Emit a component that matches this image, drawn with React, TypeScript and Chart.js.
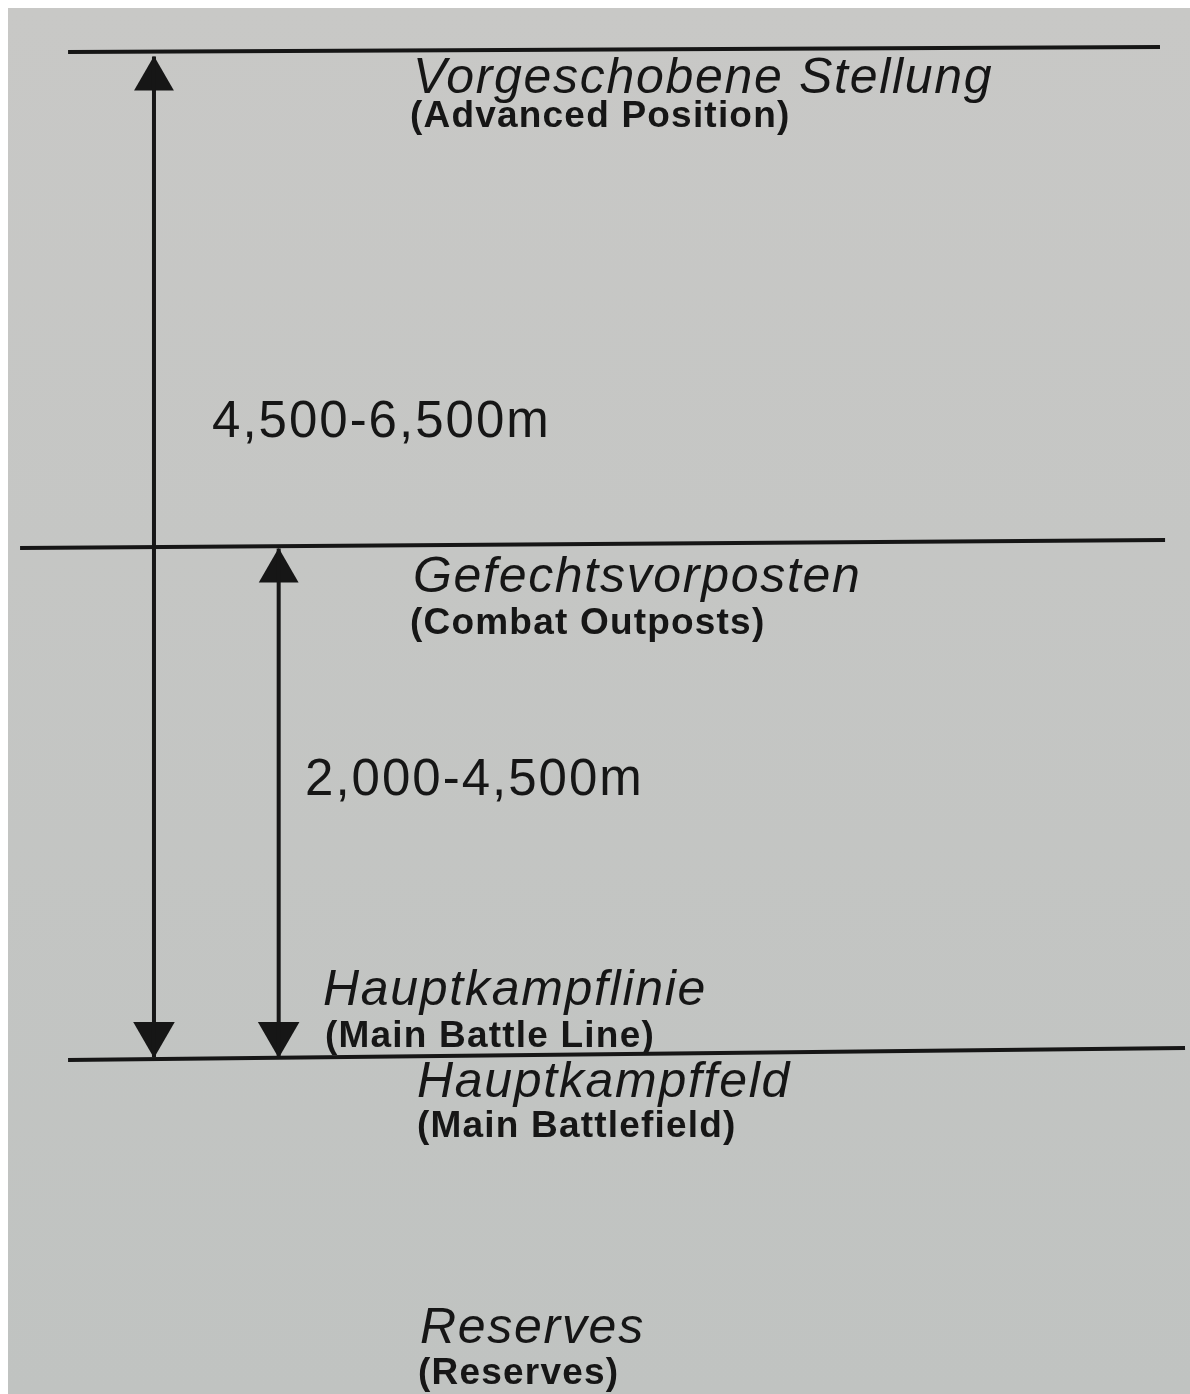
import React, { useEffect, useRef } from "react";
import { Chart, registerables } from "chart.js";

Chart.register(...registerables);

// Diagram coordinates: x and y in percent of the picture (y = 0 at bottom, 100 at top)
const lineNames = ["Vorgeschobene Stellung", "Gefechtsvorposten", "Hauptkampflinie"];
const lineStartX = [5.08, 1.02, 5.08];
const lineEndX = [97.46, 97.89, 99.58];
const lineStartY = [96.83, 61.04, 24.1];
const lineEndY = [97.19, 61.62, 24.96];

const arrowNames = ["4,500-6,500m", "2,000-4,500m"];
const arrowX = [12.35, 22.9];
const arrowTopY = [96.5, 61.0];
const arrowBottomY = [24.3, 24.3];
const arrowTopHeadY = [94.88, 59.38];
const arrowBottomHeadY = [25.97, 25.97];
const arrowTopHeadSize = [23, 23];
const arrowBottomHeadSize = [24, 24];

const labelTexts = [
  "Vorgeschobene Stellung",
  "(Advanced Position)",
  "4,500-6,500m",
  "Gefechtsvorposten",
  "(Combat Outposts)",
  "2,000-4,500m",
  "Hauptkampflinie",
  "(Main Battle Line)",
  "Hauptkampffeld",
  "(Main Battlefield)",
  "Reserves",
  "(Reserves)",
];
const labelX = [34.26, 34.01, 17.26, 34.26, 34.01, 25.13, 26.65, 26.82, 34.6, 34.6, 34.86, 34.69];
const labelY = [93.87, 91.41, 69.05, 57.86, 54.83, 43.22, 28.07, 25.04, 21.43, 18.54, 3.68, 0.72];
const labelKinds = ["title", "sub", "dist", "title", "sub", "dist", "title", "sub", "title", "sub", "title", "sub"];

const FONT = '"Liberation Sans", Arial, Helvetica, sans-serif';
const INK = "#161616";

const labelStyles: Record<string, { font: string; spacing: string }> = {
  title: { font: `italic 50px ${FONT}`, spacing: "1.7px" },
  sub: { font: `bold 37px ${FONT}`, spacing: "1.2px" },
  dist: { font: `51px ${FONT}`, spacing: "2px" },
};

const paperPlugin = {
  id: "paper",
  beforeDraw(chart: any) {
    const { ctx, width, height } = chart;
    ctx.save();
    const g = ctx.createLinearGradient(0, 0, 0, height);
    g.addColorStop(0, "#c8c8c6");
    g.addColorStop(1, "#c0c3c1");
    ctx.fillStyle = g;
    ctx.fillRect(0, 0, width, height);
    ctx.restore();
  },
};

const labelPlugin = {
  id: "labels",
  afterDatasetsDraw(chart: any) {
    const { ctx, scales } = chart;
    const xs = scales.x;
    const ys = scales.y;
    ctx.save();
    ctx.fillStyle = INK;
    ctx.textBaseline = "alphabetic";
    ctx.textAlign = "left";
    labelTexts.forEach((t, i) => {
      const st = labelStyles[labelKinds[i]];
      ctx.font = st.font;
      (ctx as any).letterSpacing = st.spacing;
      ctx.fillText(t, xs.getPixelForValue(labelX[i]), ys.getPixelForValue(labelY[i]));
    });
    ctx.restore();
  },
};

export default function App() {
  const ref = useRef<HTMLCanvasElement | null>(null);

  useEffect(() => {
    if (!ref.current) return;
    const datasets: any[] = [];
    lineNames.forEach((n, i) => {
      datasets.push({
        label: n,
        data: [
          { x: lineStartX[i], y: lineStartY[i] },
          { x: lineEndX[i], y: lineEndY[i] },
        ],
        borderColor: INK,
        borderWidth: 4,
        pointRadius: 0,
        tension: 0,
      });
    });
    arrowNames.forEach((n, i) => {
      datasets.push({
        label: n,
        data: [
          { x: arrowX[i], y: arrowTopY[i] },
          { x: arrowX[i], y: arrowBottomY[i] },
        ],
        borderColor: INK,
        borderWidth: 4,
        pointRadius: 0,
      });
      datasets.push({
        label: n + " heads",
        data: [
          { x: arrowX[i], y: arrowTopHeadY[i] },
          { x: arrowX[i], y: arrowBottomHeadY[i] },
        ],
        showLine: false,
        pointStyle: "triangle",
        rotation: [0, 180],
        pointRadius: [arrowTopHeadSize[i], arrowBottomHeadSize[i]],
        backgroundColor: INK,
        borderColor: INK,
        borderWidth: 0,
      });
    });

    const chart = new Chart(ref.current, {
      type: "line",
      data: { datasets },
      options: {
        animation: false,
        responsive: false,
        maintainAspectRatio: false,
        layout: { padding: 0, autoPadding: false },
        events: [],
        clip: false,
        scales: {
          x: { type: "linear", min: 0, max: 100, display: false },
          y: { type: "linear", min: 0, max: 100, display: false },
        },
        plugins: { legend: { display: false }, tooltip: { enabled: false } },
      },
      plugins: [paperPlugin, labelPlugin],
    } as any);
    return () => chart.destroy();
  }, []);

  return (
    <div style={{ position: "absolute", left: 8, top: 8, width: 1182, height: 1386 }}>
      <canvas ref={ref} width={1182} height={1386} style={{ display: "block", width: 1182, height: 1386 }} />
    </div>
  );
}
